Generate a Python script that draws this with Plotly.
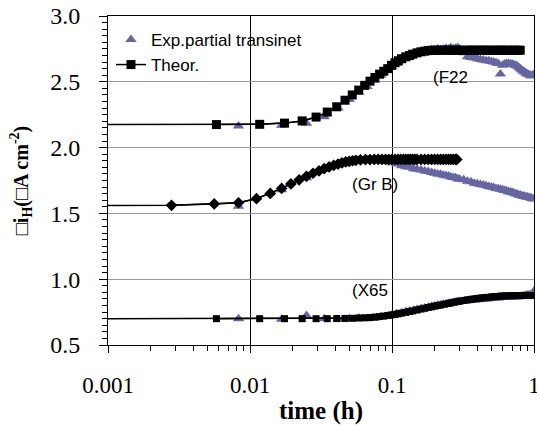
import plotly.graph_objects as go

# ---------------- data ----------------
# theoretical curves (time in h)
T_THEOR = [0.001, 0.0058, 0.0117, 0.0175, 0.0233, 0.0292, 0.035, 0.0408, 0.0467, 0.0525, 0.0583,
           0.0642, 0.07, 0.0758, 0.0817, 0.0875, 0.0933, 0.0992, 0.105, 0.1108, 0.1167,
           0.125, 0.133, 0.14, 0.15, 0.16, 0.17, 0.18, 0.19, 0.20, 0.21, 0.22, 0.235, 0.25, 0.26,
           0.275, 0.29, 0.30, 0.32, 0.34, 0.355, 0.37, 0.39, 0.41, 0.43, 0.45, 0.47, 0.50, 0.52,
           0.55, 0.58, 0.60, 0.63, 0.66, 0.70, 0.73, 0.77, 0.80, 0.84, 0.88, 0.92, 0.96, 1.0]

F22_THEOR = [2.175,
             2.175, 2.177, 2.186, 2.203, 2.232, 2.27, 2.31, 2.36, 2.40, 2.437,
             2.473, 2.505, 2.533, 2.558, 2.58, 2.60, 2.625, 2.645, 2.66, 2.675,
             2.69, 2.70, 2.71, 2.72, 2.728, 2.733, 2.737, 2.739, 2.74,
             2.74, 2.74, 2.74, 2.74, 2.74, 2.74, 2.74, 2.74, 2.74, 2.74, 2.74, 2.74, 2.74, 2.74,
             2.74, 2.74, 2.74, 2.74, 2.74, 2.74, 2.74, 2.74, 2.74, 2.74, 2.74, 2.74, 2.74, 2.74]

X65_THEOR = [0.70,
             0.70, 0.70, 0.70, 0.70, 0.70, 0.70, 0.701, 0.702, 0.703, 0.705,
             0.707, 0.709, 0.712, 0.716, 0.72, 0.724, 0.729, 0.733, 0.737, 0.742,
             0.748, 0.754, 0.759, 0.766, 0.773, 0.779, 0.785, 0.79, 0.795, 0.80, 0.804, 0.81,
             0.816, 0.82, 0.825, 0.83, 0.833, 0.838, 0.843, 0.846, 0.849, 0.852, 0.855, 0.858,
             0.86, 0.862, 0.865, 0.867, 0.869, 0.871, 0.872, 0.873, 0.874, 0.875, 0.875, 0.876,
             0.876, 0.876, 0.876, 0.876, 0.876, 0.876]

T_GRB_THEOR = [0.001, 0.0028, 0.0056, 0.0083, 0.0111, 0.0139, 0.0167, 0.0194, 0.0222, 0.025,
               0.0278, 0.0306, 0.0333, 0.0361, 0.0389, 0.0417, 0.0444, 0.0472, 0.05, 0.0528,
               0.0556, 0.06, 0.065, 0.07, 0.075, 0.08, 0.085, 0.09, 0.095, 0.10, 0.105, 0.11,
               0.115, 0.12, 0.125, 0.13, 0.135, 0.14, 0.145, 0.15, 0.16, 0.17, 0.18, 0.19, 0.20,
               0.21, 0.22, 0.23, 0.24, 0.25, 0.26, 0.27, 0.28, 0.286]

GRB_THEOR = [1.56,
             1.561, 1.572, 1.581, 1.612, 1.652, 1.69, 1.724, 1.755, 1.782, 1.805,
             1.823, 1.84, 1.853, 1.865, 1.875, 1.884, 1.891, 1.896, 1.90, 1.903,
             1.906, 1.908, 1.909,
             1.91, 1.91, 1.91, 1.91, 1.91, 1.91, 1.91, 1.91, 1.91, 1.91, 1.91, 1.91, 1.91, 1.91,
             1.91, 1.91,
             1.91, 1.91, 1.91, 1.91, 1.91, 1.91, 1.91, 1.91, 1.91, 1.91, 1.91, 1.91, 1.91, 1.91]

# experimental partial transients (time in h)
T_EXP = [0.0083, 0.0167, 0.025, 0.0333, 0.0417, 0.05, 0.0583, 0.0667, 0.075, 0.0833, 0.0917,
         0.1, 0.108, 0.117, 0.125, 0.133, 0.142, 0.15,
         0.16, 0.17, 0.18, 0.19, 0.20, 0.21, 0.22, 0.23, 0.24, 0.25, 0.26, 0.27, 0.28, 0.29, 0.30,
         0.32, 0.34, 0.36, 0.38, 0.40, 0.42, 0.44, 0.46, 0.48, 0.50, 0.52, 0.54, 0.56, 0.58,
         0.60, 0.62, 0.64, 0.66, 0.68, 0.70, 0.72, 0.74, 0.76, 0.78, 0.80, 0.82, 0.84, 0.86,
         0.88, 0.90, 0.92, 0.94, 0.96, 0.98, 1.0]

F22_EXP = [2.165, 2.17, 2.185, 2.235, 2.30, 2.365, 2.42, 2.465, 2.51, 2.55, 2.585,
           2.615, 2.64, 2.665, 2.68, 2.695, 2.705, 2.715,
           2.725, 2.73, 2.74, 2.745, 2.74, 2.75, 2.745, 2.75, 2.755, 2.75, 2.76, 2.75, 2.755, 2.76, 2.75,
           2.72, 2.69, 2.685, 2.68, 2.675, 2.67, 2.665, 2.66, 2.66, 2.655, 2.65, 2.645, 2.64, 2.56,
           2.625, 2.635, 2.64, 2.64, 2.635, 2.635, 2.63, 2.625, 2.62, 2.61, 2.60, 2.59, 2.58, 2.575,
           2.565, 2.56, 2.555, 2.55, 2.545, 2.55, 2.555]

GRB_EXP = [1.555, 1.68, 1.77, 1.835, 1.87, 1.89, 1.905, 1.91, 1.912, 1.905, 1.895,
           1.885, 1.875, 1.862, 1.855, 1.85, 1.84, 1.835,
           1.83, 1.822, 1.818, 1.81, 1.806, 1.80, 1.798, 1.79, 1.787, 1.784, 1.776, 1.772, 1.77, 1.764, 1.76,
           1.755, 1.745, 1.74, 1.73, 1.726, 1.72, 1.716, 1.71, 1.705, 1.70, 1.697, 1.69, 1.687, 1.684,
           1.68, 1.674, 1.672, 1.665, 1.662, 1.66, 1.655, 1.65, 1.647, 1.64, 1.64, 1.635, 1.63, 1.63,
           1.625, 1.624, 1.62, 1.618, 1.615, 1.612, 1.61]

X65_EXP = [0.70, 0.695, 0.725, 0.70, 0.695, 0.70, 0.705, 0.70, 0.706, 0.712, 0.718,
           0.728, 0.738, 0.745, 0.752, 0.758, 0.765, 0.77,
           0.776, 0.782, 0.786, 0.793, 0.796, 0.802, 0.804, 0.81, 0.812, 0.815, 0.82, 0.822, 0.825, 0.828, 0.83,
           0.832, 0.836, 0.839, 0.841, 0.844, 0.846, 0.848, 0.85, 0.852, 0.853, 0.855, 0.857, 0.858, 0.86,
           0.86, 0.862, 0.863, 0.865, 0.865, 0.866, 0.867, 0.866, 0.865, 0.866, 0.868, 0.87, 0.872, 0.875,
           0.878, 0.88, 0.88, 0.882, 0.88, 0.885, 0.91]

# curve labels: (text, log10(time), value)
LABELS = [("(F22", -0.59, 2.53), ("(Gr B)", -1.12, 1.72), ("(X65", -1.155, 0.917)]

X_TICKS = [0.001, 0.01, 0.1, 1]
X_TICKTEXT = ["0.001", "0.01", "0.1", "1"]
X_MINOR = [0.002, 0.003, 0.004, 0.005, 0.006, 0.007, 0.008, 0.009,
           0.02, 0.03, 0.04, 0.05, 0.06, 0.07, 0.08, 0.09,
           0.2, 0.3, 0.4, 0.5, 0.6, 0.7, 0.8, 0.9]

EXP_COLOR = "#6666a3"
SERIF = "Liberation Serif, Times New Roman, serif"
SANS = "Liberation Sans, Arial, sans-serif"

# ---------------- figure ----------------
fig = go.Figure()

for i, vals in enumerate([F22_EXP, GRB_EXP, X65_EXP]):
    fig.add_trace(go.Scatter(
        x=T_EXP[:len(vals)], y=vals, mode="markers",
        name="Exp.partial transinet", showlegend=(i == 0), legendrank=1,
        marker=dict(symbol="triangle-up", size=10, color=EXP_COLOR),
    ))


def theor(tt, vals, symbol, size, show):
    n = len(vals)
    # full line, starting at the axis
    fig.add_trace(go.Scatter(
        x=tt[:n], y=vals, mode="lines", showlegend=False, hoverinfo="skip",
        line=dict(color="black", width=1.5),
    ))
    # markers (first point only anchors the line at the axis)
    fig.add_trace(go.Scatter(
        x=tt[1:n], y=vals[1:], mode="lines+markers", name="Theor.",
        showlegend=show, legendrank=2,
        line=dict(color="black", width=1.5),
        marker=dict(symbol=symbol, size=size, color="black", line=dict(width=0)),
    ))


theor(T_THEOR, F22_THEOR, "square", 9, True)
theor(T_GRB_THEOR, GRB_THEOR, "diamond", 9, False)
theor(T_THEOR, X65_THEOR, "square", 7, False)

for text, lx, ly in LABELS:
    fig.add_annotation(x=lx, y=ly, text=text, showarrow=False,
                       font=dict(family=SANS, size=17, color="black"),
                       xanchor="center", yanchor="middle")

fig.update_layout(
    width=537, height=425,
    margin=dict(l=108, r=3, t=16, b=80),
    paper_bgcolor="white", plot_bgcolor="white",
    showlegend=True,
    legend=dict(x=0.007, y=0.982, xanchor="left", yanchor="top",
                bgcolor="rgba(0,0,0,0)", borderwidth=0,
                font=dict(family=SANS, size=17, color="black"),
                itemsizing="trace"),
)

fig.update_xaxes(
    type="log", range=[-3, 0], automargin=False,
    tickmode="array", tickvals=X_TICKS, ticktext=X_TICKTEXT,
    ticks="outside", ticklen=7, tickcolor="black", tickwidth=1,
    ticklabelstandoff=12, ticklabeloverflow="allow",
    showline=True, linecolor="black", linewidth=1, mirror=True,
    showgrid=True, gridcolor="black", gridwidth=1,
    zeroline=False,
    tickfont=dict(family=SERIF, size=23, color="black"),
    minor=dict(tickmode="array", tickvals=X_MINOR, ticks="outside", ticklen=5,
               tickcolor="black", tickwidth=1, showgrid=False),
    title=dict(text="<b>time (h)</b>", font=dict(family=SERIF, size=25, color="black"), standoff=14),
)
fig.update_yaxes(
    range=[0.5, 3.0], automargin=False,
    tickmode="linear", tick0=0.5, dtick=0.5, tickformat=".1f",
    ticks="outside", ticklen=8, tickcolor="black", tickwidth=1.2,
    ticklabelstandoff=14,
    showline=True, linecolor="black", linewidth=1, mirror=True,
    showgrid=True, gridcolor="#9a9a9a", gridwidth=1,
    zeroline=False,
    tickfont=dict(family=SERIF, size=24, color="black"),
    minor=dict(tickmode="linear", tick0=0.5, dtick=0.05, ticks="outside", ticklen=5,
               tickcolor="black", tickwidth=1.2, showgrid=False),
    title=dict(text="<b>□i<sub>H</sub>(□A cm<sup>-2</sup>)</b>",
               font=dict(family=SERIF, size=20, color="black"), standoff=16),
)

fig.write_html("out.html", config={"displayModeBar": False},
               post_script="document.body.style.margin='0px';")
